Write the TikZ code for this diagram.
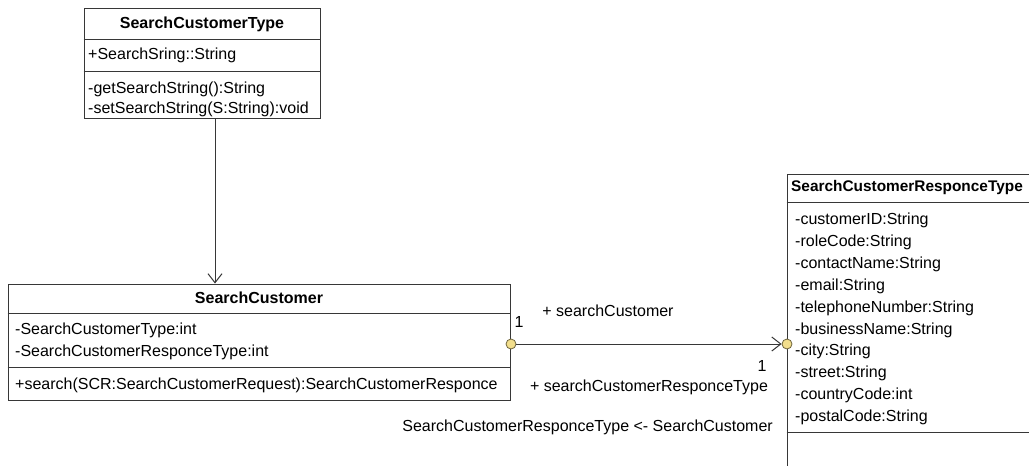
\documentclass[tikz,border=0pt]{standalone}
\usepackage{fontspec}
\setmainfont{Liberation Sans}
\usetikzlibrary{arrows.meta}
\definecolor{linegray}{RGB}{55,55,55}
\definecolor{assocfill}{RGB}{242,222,140}
\definecolor{assocdraw}{RGB}{110,100,60}
\begin{document}
\begin{tikzpicture}[x=1pt,y=-1pt,
  classbox/.style={draw=linegray, line width=1pt, inner sep=0, fill=white},
  txt/.style={font=\fontsize{16}{19}\selectfont, inner sep=0, anchor=west, text height=11.5pt, text depth=3.4pt},
  ttl/.style={txt, font=\fontsize{16}{19}\selectfont\bfseries},
  assoc/.style={circle, draw=assocdraw, fill=assocfill, line width=0.8pt, minimum size=10pt, inner sep=0},
  conn/.style={draw=linegray, line width=1pt},
  barb/.style={-{Straight Barb[length=9pt,width=14pt,line width=1pt]}}
]
\useasboundingbox (0,0) rectangle (1029,466);
\clip (0,0) rectangle (1029,466);
\fill[white] (0,0) rectangle (1029,466);

% SearchCustomerType
\node[classbox, minimum width=236pt, minimum height=110pt] (sct) at (202,63) {};
\draw[conn] (sct.west |- 0,39) -- (sct.east |- 0,39);
\draw[conn] (sct.west |- 0,71) -- (sct.east |- 0,71);
\node[ttl, anchor=center] (sctT) at (202,24) {SearchCustomerType};
\node[txt] (sctA) at (88,55) {+SearchSring::String};
\node[txt] (sctO1) at (88,89) {-getSearchString():String};
\node[txt] (sctO2) at (88,109) {-setSearchString(S:String):void};

% SearchCustomer
\node[classbox, minimum width=502pt, minimum height=116pt] (sc) at (259,342) {};
\draw[conn] (sc.west |- 0,313) -- (sc.east |- 0,313);
\draw[conn] (sc.west |- 0,367) -- (sc.east |- 0,367);
\node[ttl, anchor=center] (scT) at (259,299) {SearchCustomer};
\node[txt] (scA1) at (15,330) {-SearchCustomerType:int};
\node[txt] (scA2) at (15,352) {-SearchCustomerResponceType:int};
\node[txt] (scO1) at (15,385) {+search(SCR:SearchCustomerRequest):SearchCustomerResponce};

% SearchCustomerResponceType
\node[classbox, minimum width=253pt, minimum height=306pt] (rt) at (913.5,327) {};
\draw[conn] (rt.west |- 0,202) -- (rt.east |- 0,202);
\draw[conn] (rt.west |- 0,432) -- (rt.east |- 0,432);
\node[ttl, font=\fontsize{15.4}{18}\selectfont\bfseries] (rtT) at (791,187) {SearchCustomerResponceType};
\node[txt] (rtA1) at (795,220) {-customerID:String};
\node[txt] (rtA2) at (795,242) {-roleCode:String};
\node[txt] (rtA3) at (795,264) {-contactName:String};
\node[txt] (rtA4) at (795,286) {-email:String};
\node[txt] (rtA5) at (795,308) {-telephoneNumber:String};
\node[txt] (rtA6) at (795,330) {-businessName:String};
\node[txt] (rtA7) at (795,351) {-city:String};
\node[txt] (rtA8) at (795,373) {-street:String};
\node[txt] (rtA9) at (795,395) {-countryCode:int};
\node[txt] (rtA10) at (795,417) {-postalCode:String};

% dependency arrow
\draw[conn, barb] ([xshift=13pt]sct.south) -- ([xshift=13pt]sct.south |- sc.north);

% association
\node[assoc] (c1) at (511,344) {};
\node[assoc] (c2) at (787,344) {};
\draw[conn, barb] (c1) -- (c2);

\node[txt, anchor=center] (l1) at (608,312) {+ searchCustomer};
\node[txt, anchor=center] (m1) at (519,323) {1};
\node[txt, anchor=center] (m2) at (762,367) {1};
\node[txt, anchor=center] (l2) at (649,387) {+ searchCustomerResponceType};
\node[txt, anchor=east] (l3) at (773,427) {SearchCustomerResponceType <- SearchCustomer};
\end{tikzpicture}
\end{document}
